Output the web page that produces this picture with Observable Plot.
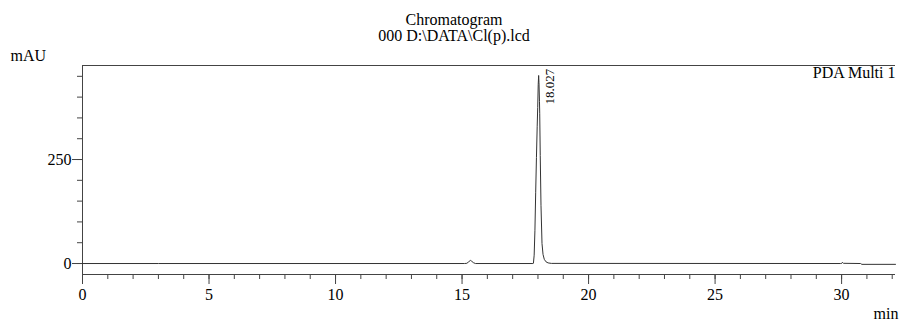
<!DOCTYPE html>
<html><head><meta charset="utf-8">
<script src="https://cdn.jsdelivr.net/npm/d3@7"></script>
<script src="https://cdn.jsdelivr.net/npm/@observablehq/plot@0.6"></script>
<style>
html,body{margin:0;padding:0;background:#fff;}
#title{width:899px;height:45px;font-family:"Liberation Serif",serif;font-size:16px;line-height:16px;text-align:center;color:#000;padding-left:9px;padding-top:12px;box-sizing:border-box;}
svg{display:block}
</style></head><body>
<div id="title"><div>Chromatogram</div><div>000 D:\DATA\Cl(p).lcd</div></div>
<div id="chart"></div>
<script>
// Retention time (min) and absorbance (mAU)
const times  = [0, 3, 15.10, 15.19, 15.26, 15.33, 15.38, 15.45, 15.53, 17.80, 17.82, 17.85, 17.88, 17.91, 17.94, 17.97, 17.99, 18.01, 18.027, 18.04, 18.06, 18.07, 18.09, 18.12, 18.16, 18.20, 18.25, 18.32, 18.40, 18.53, 29.95, 30.00, 30.03, 30.07, 30.75, 30.80, 32.13];
const absorb = [0, 0, 0, 0.5, 4, 7.5, 5.5, 2, 0, 0, 0.5, 20, 80, 170, 255, 330, 375, 430, 452, 435, 390, 360, 260, 140, 48, 22, 10, 4, 1.5, 0.3, 0, 0, 3, 0.5, 0, -2, -2];

const peakTimes = [18.027];
const peakHeights = [452];
const peakLabels = ["18.027"];

const xMajor = [0, 5, 10, 15, 20, 25, 30];
const xMinor = [0,1,2,3,4,5,6,7,8,9,10,11,12,13,14,15,16,17,18,19,20,21,22,23,24,25,26,27,28,29,30,31,32];
const yMajor = [0, 250];
const yMinor = [0, 50, 100, 150, 200, 250, 300, 350, 400, 450];
const xDomain = [0, 32.13];
const yDomain = [-26.4, 476];

const data = times.map((t, i) => ({t, v: absorb[i]}));
const peaks = peakTimes.map((t, i) => ({t, v: peakHeights[i], label: peakLabels[i]}));
const axisColor = "#444";

const chart = Plot.plot({
  width: 899, height: 277,
  marginLeft: 82, marginRight: 4, marginTop: 20, marginBottom: 48,
  style: {fontFamily: "Liberation Serif, serif", fontSize: "16px", color: "#000", background: "#fff"},
  x: {domain: xDomain, label: null},
  y: {domain: yDomain, label: null},
  marks: [
    Plot.ruleY([yDomain[1]], {stroke: axisColor}),
    Plot.ruleX([xDomain[0]], {stroke: axisColor}),
    Plot.ruleY([yDomain[0]], {stroke: axisColor}),
    Plot.axisY({ticks: yMinor, tickSize: 5, tickFormat: () => "", stroke: axisColor, label: null}),
    Plot.axisY({ticks: yMajor, tickSize: 10, tickPadding: 1, stroke: axisColor, label: null}),
    Plot.axisX({ticks: xMinor, tickSize: 5, tickFormat: () => "", stroke: axisColor, label: null}),
    Plot.axisX({ticks: xMajor, tickSize: 10, tickPadding: 4, stroke: axisColor, label: null}),
    Plot.line(data, {x: "t", y: "v", stroke: "#333", strokeWidth: 1}),
    Plot.text(peaks, {x: "t", y: "v", text: "label", rotate: -90, textAnchor: "start", dx: 11.5, dy: 29, fontSize: 13}),
    Plot.text(["PDA Multi 1"], {frameAnchor: "top-right", textAnchor: "end", lineAnchor: "top", dy: 1}),
    Plot.text(["mAU"], {frameAnchor: "top-left", textAnchor: "start", lineAnchor: "top", dx: -72, dy: -16}),
    Plot.text(["min"], {frameAnchor: "bottom-right", textAnchor: "start", lineAnchor: "top", dx: -22, dy: 33})
  ]
});
document.getElementById("chart").appendChild(chart);
</script>
</body></html>
